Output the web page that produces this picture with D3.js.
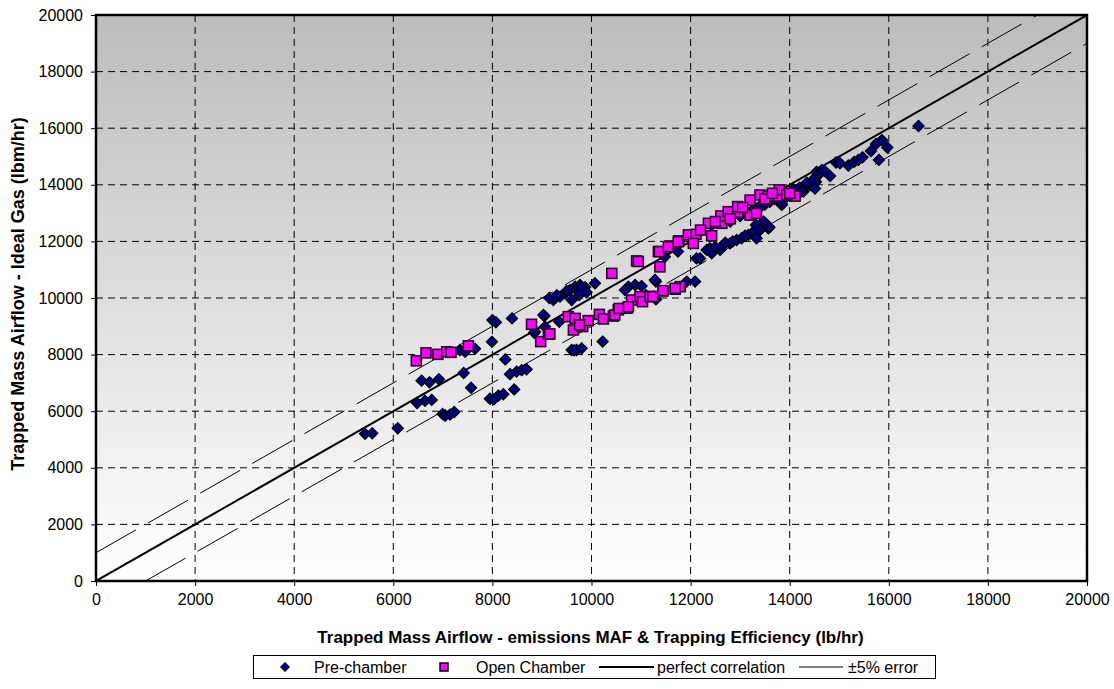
<!DOCTYPE html>
<html>
<head>
<meta charset="utf-8">
<script src="https://cdn.jsdelivr.net/npm/d3@7"></script>
<style>
  body { margin: 0; background: #fff; }
  svg { display: block; font-family: "Liberation Sans", Arial, sans-serif; }
</style>
</head>
<body>
<div id="chart"></div>
<script>
// values (lb/hr)
const preChamber = [
  [5430,5200],[5575,5220],[6090,5395],[6480,6290],[6640,6370],[6775,6400],[6570,7080],[6730,7020],
  [6920,7130],[6995,5900],[7045,5840],[7145,5880],[7230,5970],[7420,7350],[7570,6830],[7345,8160],
  [7450,8100],[7650,8210],[7990,8450],[8000,9220],[8070,9140],[8395,9280],[8260,7830],[7950,6440],
  [8030,6420],[8120,6550],[8220,6600],[8440,6770],[8355,7310],[8490,7400],[8590,7450],[8690,7480],
  [8845,8770],[9050,9360],[9060,8980],
  [9230,9930],[9365,10050],[9465,10170],[9565,10280],[9670,10400],[9770,10460],[9870,10380],[9600,9930],
  [10070,10520],[9030,9400],[8860,8810],[9350,9160],[9600,8160],[9700,8160],[9800,8220],[9650,8150],
  [10225,8460],[9150,10000],[9300,10100],[9500,10250],[9700,10300],[9800,10350],[9900,10200],[9750,10100],
  [10745,10400],[10880,10460],[11010,10420],[11300,10580],[11920,10580],[12090,10580],[12120,11400],
  [12190,11400],[11745,11640],[11480,11460],[11280,10640],[10675,10280],[10900,10000],[11100,10100],[11300,9950],
  [12390,11760],[12425,11580],[12595,11700],[12660,11870],[12795,11930],[12930,12050],[13030,12110],
  [13165,12230],[13270,12340],[13330,12110],[13320,12580],[13500,12660],[13570,12460],[13470,12700],
  [13590,12500],[12325,11700],[12500,11800],[12700,11950],[12850,12000],[13100,12200],[13400,12400],
  [13840,13290],[14070,13840],[14275,13760],[14410,13990],[14530,14110],[13840,13350],[13950,13600],
  [14100,13700],[14200,13900],[14350,14050],[14475,14190],[14510,13870],[14240,13760],[14345,14070],
  [14545,14460],[14645,14520],[14610,14400],[14815,14310],[14700,14500],[13700,13500],[13600,13400],
  [13500,13300],[13400,13200],[13300,13100],[13000,12900],[12800,12700],
  [14935,14790],[15015,14760],[15185,14680],[15300,14810],[15385,14880],[15470,14970],[15640,15190],
  [15740,15440],[15860,15580],[15970,15320],[15800,14880],[16600,16080]
];

const openChamber = [
  [6465,7780],[6660,8060],[6900,8010],[7080,8100],[7165,8080],[7515,8310],[8790,9070],[8975,8460],
  [9130,8720],[9160,8730],[9530,9340],[9670,9280],[9635,8870],[9820,8990],[9935,9200],[9760,9050],
  [10160,9420],[10240,9260],[10440,9360],[10540,9580],[10720,9640],[10810,9930],[10980,10050],[11030,9870],
  [11180,10050],[11440,10250],[11690,10310],[11790,10400],[10470,9400],[10560,9630],[10745,9690],
  [11235,10050],[11440,10260],[11690,10340],
  [10410,10870],[10910,11310],[10945,11290],[11380,11100],[11350,11640],[11370,11640],[11585,11840],
  [11550,11810],[11765,12020],[11750,11990],[11955,12230],[12110,12250],[12055,11930],[12360,12640],
  [12425,12200],[12630,12640],[12610,12900],[12760,13050],[12960,13030],[12950,13230],[13200,13460],
  [13200,12930],[13330,12990],[13400,13640],[13570,13600],[13770,13600],[13790,13820],[14110,13600],
  [13940,13640],[12200,12400],[12500,12700],[12800,12800],[13050,13200],[13500,13500],[13650,13700],[14000,13700]
];

const axisTicks = d3.range(0, 20001, 2000);
const perfectLine = [[0, 0], [20000, 20000]];
const upperError = [[0, 1000], [19000, 20000]];
const lowerError = [[1000, 0], [20000, 19000]];
const legendLabels = ["Pre-chamber", "Open Chamber", "perfect correlation", "\u00b15% error"];

const width = 1114, height = 689;
const margin = { left: 96, top: 15, right: 27, bottom: 108 };
const pw = width - margin.left - margin.right;
const ph = height - margin.top - margin.bottom;

const svg = d3.select("#chart").append("svg")
  .attr("width", width).attr("height", height);

const x = d3.scaleLinear().domain([0, 20000]).range([0, pw]);
const y = d3.scaleLinear().domain([0, 20000]).range([ph, 0]);

const defs = svg.append("defs");
const grad = defs.append("linearGradient").attr("id", "bg")
  .attr("x1", 0).attr("y1", 0).attr("x2", 0).attr("y2", 1);
grad.append("stop").attr("offset", "0%").attr("stop-color", "#bcbcbc");
grad.append("stop").attr("offset", "100%").attr("stop-color", "#ffffff");
defs.append("clipPath").attr("id", "clip")
  .append("rect").attr("width", pw).attr("height", ph);

const g = svg.append("g").attr("transform", `translate(${margin.left},${margin.top})`);

g.append("rect").attr("width", pw).attr("height", ph).attr("fill", "url(#bg)");

// grid
g.append("g").selectAll("line").data(axisTicks.slice(1, -1)).join("line")
  .attr("x1", d => x(d)).attr("x2", d => x(d)).attr("y1", 0).attr("y2", ph)
  .attr("stroke", "#000").attr("stroke-width", 1).attr("stroke-dasharray", "7,5");
g.append("g").selectAll("line").data(axisTicks.slice(1, -1)).join("line")
  .attr("y1", d => y(d)).attr("y2", d => y(d)).attr("x1", 0).attr("x2", pw)
  .attr("stroke", "#000").attr("stroke-width", 1).attr("stroke-dasharray", "7,5");

const line = d3.line().x(d => x(d[0])).y(d => y(d[1]));
const lines = g.append("g").attr("clip-path", "url(#clip)");
lines.append("path").attr("d", line(perfectLine))
  .attr("stroke", "#000").attr("stroke-width", 2).attr("fill", "none");
[upperError, lowerError].forEach(d => {
  lines.append("path").attr("d", line(d))
    .attr("stroke", "#000").attr("stroke-width", 1).attr("fill", "none")
    .attr("stroke-dasharray", "46,14");
});

// markers
const diamond = r => `M0,${-r}L${r},0L0,${r}L${-r},0Z`;
g.append("g").selectAll("path").data(preChamber).join("path")
  .attr("d", diamond(5.6))
  .attr("transform", d => `translate(${x(d[0])},${y(d[1])})`)
  .attr("fill", "#000080").attr("stroke", "#000").attr("stroke-width", 1.2);

g.append("g").selectAll("rect").data(openChamber).join("rect")
  .attr("x", d => x(d[0]) - 5).attr("y", d => y(d[1]) - 5)
  .attr("width", 10).attr("height", 10)
  .attr("fill", "#ff00ff").attr("stroke", "#2a0a2a").attr("stroke-width", 1.6);

// frame
g.append("rect").attr("width", pw).attr("height", ph)
  .attr("fill", "none").attr("stroke", "#000").attr("stroke-width", 2.5);

// axes
const xAxis = g.append("g").attr("transform", `translate(0,${ph})`)
  .call(d3.axisBottom(x).tickValues(axisTicks).tickFormat(d3.format("d")).tickSize(5).tickPadding(8));
const yAxis = g.append("g")
  .call(d3.axisLeft(y).tickValues(axisTicks).tickFormat(d3.format("d")).tickSize(5).tickPadding(8));
[xAxis, yAxis].forEach(a => {
  a.select(".domain").remove();
  a.selectAll(".tick line").attr("stroke", "#000");
  a.selectAll("text").attr("font-size", 16).attr("fill", "#000")
    .attr("font-family", "Liberation Sans, Arial, sans-serif");
});

svg.append("text")
  .attr("x", margin.left + pw / 2 - 1).attr("y", 643)
  .attr("text-anchor", "middle").attr("font-weight", "bold").attr("font-size", 17)
  .text("Trapped Mass Airflow - emissions MAF & Trapping Efficiency (lb/hr)");

svg.append("text")
  .attr("transform", `translate(24,${margin.top + ph / 2 - 4}) rotate(-90)`)
  .attr("text-anchor", "middle").attr("font-weight", "bold").attr("font-size", 18)
  .text("Trapped Mass Airflow - Ideal Gas (lbm/hr)");

// legend
const lg = svg.append("g");
lg.append("rect").attr("x", 253.5).attr("y", 655.5).attr("width", 682).attr("height", 23)
  .attr("fill", "#fff").attr("stroke", "#000").attr("stroke-width", 1);
const ly = 667;
lg.append("path").attr("d", diamond(4.5))
  .attr("transform", `translate(285,${ly})`)
  .attr("fill", "#000080").attr("stroke", "#000");
lg.append("rect").attr("x", 440).attr("y", ly - 4).attr("width", 8).attr("height", 8)
  .attr("fill", "#ff00ff").attr("stroke", "#000").attr("stroke-width", 1.5);
lg.append("line").attr("x1", 599).attr("x2", 654).attr("y1", ly).attr("y2", ly)
  .attr("stroke", "#000").attr("stroke-width", 2);
lg.append("line").attr("x1", 799).attr("x2", 843).attr("y1", ly).attr("y2", ly)
  .attr("stroke", "#000").attr("stroke-width", 1);
const textX = [314, 476, 657, 848];
lg.selectAll("text.lab").data(legendLabels).join("text").attr("class", "lab")
  .attr("x", (d, i) => textX[i]).attr("y", ly + 6)
  .attr("font-size", 16).attr("fill", "#000")
  .text(d => d);
</script>
</body>
</html>
